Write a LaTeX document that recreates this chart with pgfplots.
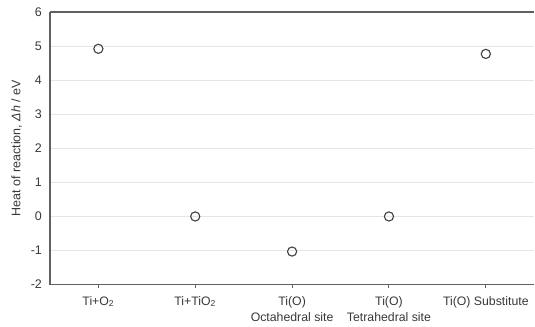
\documentclass[border=0pt]{standalone}
\usepackage{pgfplots}
\pgfplotsset{compat=1.18}
\usepackage{fontspec}
\setmainfont{Liberation Sans}
\definecolor{txt}{HTML}{383838}
\definecolor{axc}{HTML}{606060}
\definecolor{grd}{HTML}{E6E6E6}
\begin{document}
\begin{tikzpicture}
\begin{axis}[
  scale only axis,
  width=485pt, height=273pt,
  xmin=-0.5, xmax=4.5, ymin=-2, ymax=6,
  xtick={0,1,2,3,4},
  xticklabels={Ti+O\textsubscript{2},Ti+TiO\textsubscript{2},{Ti(O)\\Octahedral site},{Ti(O)\\Tetrahedral site},Ti(O) Substitute},
  xticklabel style={align=center, font=\fontsize{12.3}{16.5}\selectfont, text=txt},
  ytick={-2,-1,0,1,2,3,4,5,6},
  yticklabel style={font=\fontsize{12.5}{14}\selectfont, text=txt},
  /pgf/number format/assume math mode=true,
  ymajorgrids, grid style={grd, line width=1pt},
  axis x line=box, axis y line=left,
  axis line style={axc, line width=1.5pt, -},
  tick style={axc, line width=1pt},
  major tick length=3pt,
  xtick pos=bottom, xtick align=outside,
  ytick style={draw=none},
  ylabel={Heat of reaction, \textit{Δh} / eV},
  ylabel style={font=\fontsize{12.5}{14}\selectfont, text=txt},
  ylabel shift=2pt,
  yticklabel shift=3pt,
  xticklabel shift=5pt,
  clip=false,
]
\addplot[only marks, mark=o, mark size=4.6pt, mark options={draw=black!75, line width=1.1pt}] coordinates {
  (0,4.92) (1,0) (2,-1.03) (3,0) (4,4.77)
};
\end{axis}
\path[use as bounding box] (-50pt,-42pt) rectangle (485pt,285pt);
\end{tikzpicture}
\end{document}
